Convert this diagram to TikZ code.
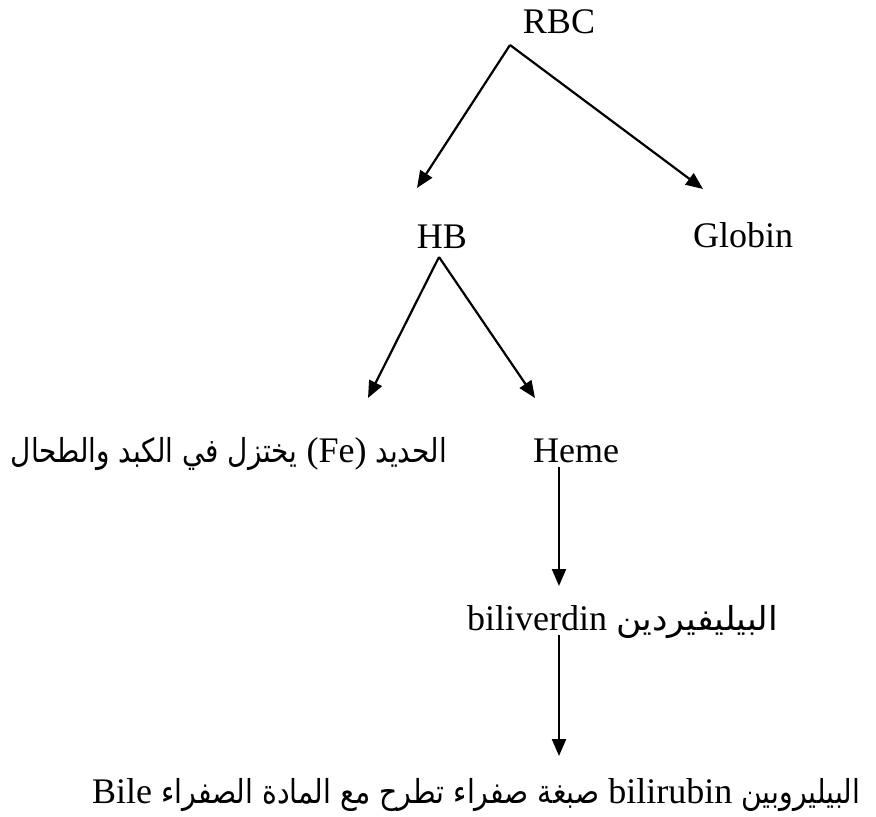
\documentclass[tikz,border=0pt]{standalone}
\usepackage{graphicx}
\usepackage{fontspec}
\setmainfont{Liberation Serif}
\newfontfamily\arabicfont[Script=Arabic]{DejaVu Sans}
\TeXXeTstate=1
\usetikzlibrary{arrows.meta}
\newcommand{\arf}{\arabicfont\fontsize{33}{38}\selectfont}
\newcommand{\latw}[1]{{\rmfamily\fontsize{36}{40}\selectfont #1}}
\newcommand{\curS}{1}
\newcommand{\ars}[1]{\scalebox{\curS}[1]{\arf\beginR #1\endR}}
% segments in visual left-to-right order (each Arabic run right-to-left inside)
\newcommand{\lineone}{\fontsize{36}{40}\selectfont\ars{يختزل في الكبد والطحال} \latw{(Fe)} \ars{الحديد}}
\newcommand{\linetwo}{\fontsize{36}{40}\selectfont\latw{biliverdin} \ars{البيليفيردين}}
\newcommand{\linethree}{\fontsize{36}{40}\selectfont\latw{Bile} \ars{صبغة صفراء تطرح مع المادة الصفراء} \latw{bilirubin} \ars{البيليروبين}}
\newlength\wA \newlength\wB
\newcommand{\fitscale}[3]{%
  \settowidth{\wA}{\renewcommand{\curS}{1}#2}%
  \settowidth{\wB}{\renewcommand{\curS}{0.5}#2}%
  \pgfmathsetmacro#1{1-(\the\wA-#3)/(2*(\the\wA-\the\wB))}%
}
\begin{document}
\fitscale{\scA}{\lineone}{436}%
\fitscale{\scB}{\linetwo}{311}%
\fitscale{\scC}{\linethree}{768}%
\begin{tikzpicture}[x=1pt,y=-1pt,
  lbl/.style={inner sep=0pt, anchor=base, font=\fontsize{36}{40}\selectfont},
  arr/.style={line width=2.2pt, -{Triangle[length=17pt,width=14pt]}}]
\useasboundingbox (0,0) rectangle (876,817);
\node[lbl] (rbc) at (559,33) {RBC};
\node[lbl] (hb) at (442,248) {HB};
\node[lbl, anchor=base west] (globin) at (693,247) {Globin};
\node[lbl, anchor=base west] (heme) at (533,462) {Heme};
\node[lbl, anchor=base east] (fe) at (447,462) {\renewcommand{\curS}{\scA}\lineone};
\node[lbl, anchor=base west] (bv) at (467,630) {\renewcommand{\curS}{\scB}\linetwo};
\node[lbl, anchor=base west] (br) at (92,803) {\renewcommand{\curS}{\scC}\linethree};
\coordinate (rbcA) at (510,45);
\coordinate (hbT) at (417,188);
\coordinate (glT) at (703,189);
\coordinate (hbA) at (439,257);
\coordinate (feT) at (368,398);
\coordinate (hmT) at (535,398);
\coordinate (hmA) at (559,467);
\coordinate (bvT) at (559,586);
\coordinate (bvA) at (559,635);
\coordinate (brT) at (559,756);
\draw[arr] (rbcA) -- (hbT);
\draw[arr] (rbcA) -- (glT);
\draw[arr] (hbA) -- (feT);
\draw[arr] (hbA) -- (hmT);
\draw[arr] (hmA) -- (bvT);
\draw[arr] (bvA) -- (brT);
\end{tikzpicture}
\end{document}
